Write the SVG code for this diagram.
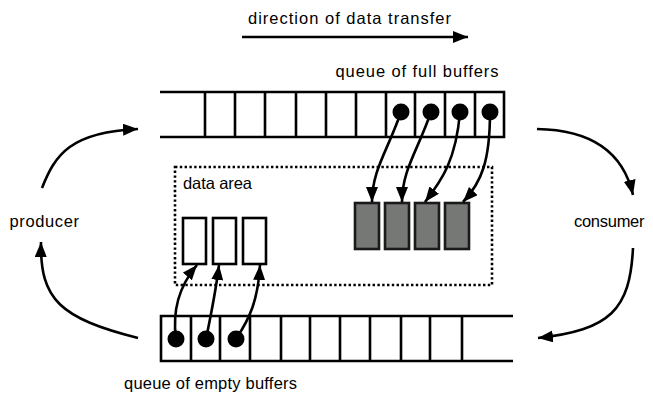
<svg xmlns="http://www.w3.org/2000/svg" width="653" height="397" viewBox="0 0 653 397">
<defs>
<marker id="ah" markerUnits="userSpaceOnUse" markerWidth="16" markerHeight="12" refX="15" refY="6" orient="auto">
<path d="M0,0 L15,6 L0,12 Z" fill="#000"/>
</marker>
<style>
.t{font-family:"Liberation Sans",Arial,sans-serif;font-size:16.5px;fill:#000}
.q{fill:none;stroke:#000;stroke-width:2.6}
.dot{fill:#000}
.c{fill:none;stroke:#000;stroke-width:2.6;marker-end:url(#ah)}
.wb{fill:#fff;stroke:#000;stroke-width:2.6}
.gb{fill:#767876;stroke:#1a1a1a;stroke-width:2.6}
</style>
</defs>
<rect width="653" height="397" fill="#fff"/>

<g id="direction">
<text class="t" x="248" y="24" textLength="203" lengthAdjust="spacing">direction of data transfer</text>
<line class="c" x1="242" y1="37" x2="468" y2="37"/>
</g>

<g id="full-queue">
<text class="t" x="335.5" y="77" textLength="163" lengthAdjust="spacing">queue of full buffers</text>
<path class="q" d="M160,92 H504 V137 H160 M205,92 V137 M235,92 V137 M265,92 V137 M296,92 V137 M326,92 V137 M356,92 V137 M386,92 V137 M415,92 V137 M445,92 V137 M475,92 V137"/>
<circle class="dot" cx="401" cy="112" r="8.5"/>
<circle class="dot" cx="431" cy="112" r="8.5"/>
<circle class="dot" cx="460" cy="112" r="8.5"/>
<circle class="dot" cx="490" cy="112" r="8.5"/>
</g>

<g id="empty-queue">
<text class="t" x="124" y="389" textLength="173" lengthAdjust="spacing">queue of empty buffers</text>
<path class="q" d="M513,316 H161 V361 H513 M191,316 V361 M220,316 V361 M250,316 V361 M281,316 V361 M310,316 V361 M340,316 V361 M370,316 V361 M401,316 V361 M430,316 V361 M462,316 V361"/>
<circle class="dot" cx="176" cy="339" r="8.5"/>
<circle class="dot" cx="206" cy="339" r="8.5"/>
<circle class="dot" cx="236" cy="339" r="8.5"/>
</g>

<g id="data-area">
<rect x="175" y="167" width="317" height="118" fill="none" stroke="#000" stroke-width="2.6" stroke-dasharray="2.4,2.4"/>
<text class="t" x="183" y="189" textLength="69" lengthAdjust="spacing">data area</text>
<rect class="wb" x="183" y="218" width="23" height="46"/>
<rect class="wb" x="213" y="218" width="23" height="46"/>
<rect class="wb" x="243" y="218" width="23" height="46"/>
<rect class="gb" x="355" y="203" width="24" height="46"/>
<rect class="gb" x="385" y="203" width="24" height="46"/>
<rect class="gb" x="415" y="203" width="24" height="46"/>
<rect class="gb" x="445" y="203" width="24" height="46"/>
</g>

<g id="producer">
<text class="t" x="9.5" y="227" textLength="69.5" lengthAdjust="spacing">producer</text>
</g>
<g id="consumer">
<text class="t" x="574" y="227" textLength="70.5" lengthAdjust="spacing">consumer</text>
</g>

<g id="connectors">
<path class="c" d="M401,112 C388,150 372,170 372,202"/>
<path class="c" d="M431,112 C418,150 402,170 402,202"/>
<path class="c" d="M460,112 C456,160 442,180 425,202"/>
<path class="c" d="M490,112 C490,160 482,182 463,202"/>
<path class="c" d="M176,339 C172,310 180,285 197,265"/>
<path class="c" d="M206,339 C212,310 216,290 219,265"/>
<path class="c" d="M236,339 C250,318 258,300 260,265"/>
<path class="c" d="M42,188 C55,155 70,132 138,129"/>
<path class="c" d="M138,338 C60,318 40,300 41,242"/>
<path class="c" d="M537,129 C600,130 625,160 633,195"/>
<path class="c" d="M633,248 C630,310 610,330 538,338"/>
</g>
</svg>
